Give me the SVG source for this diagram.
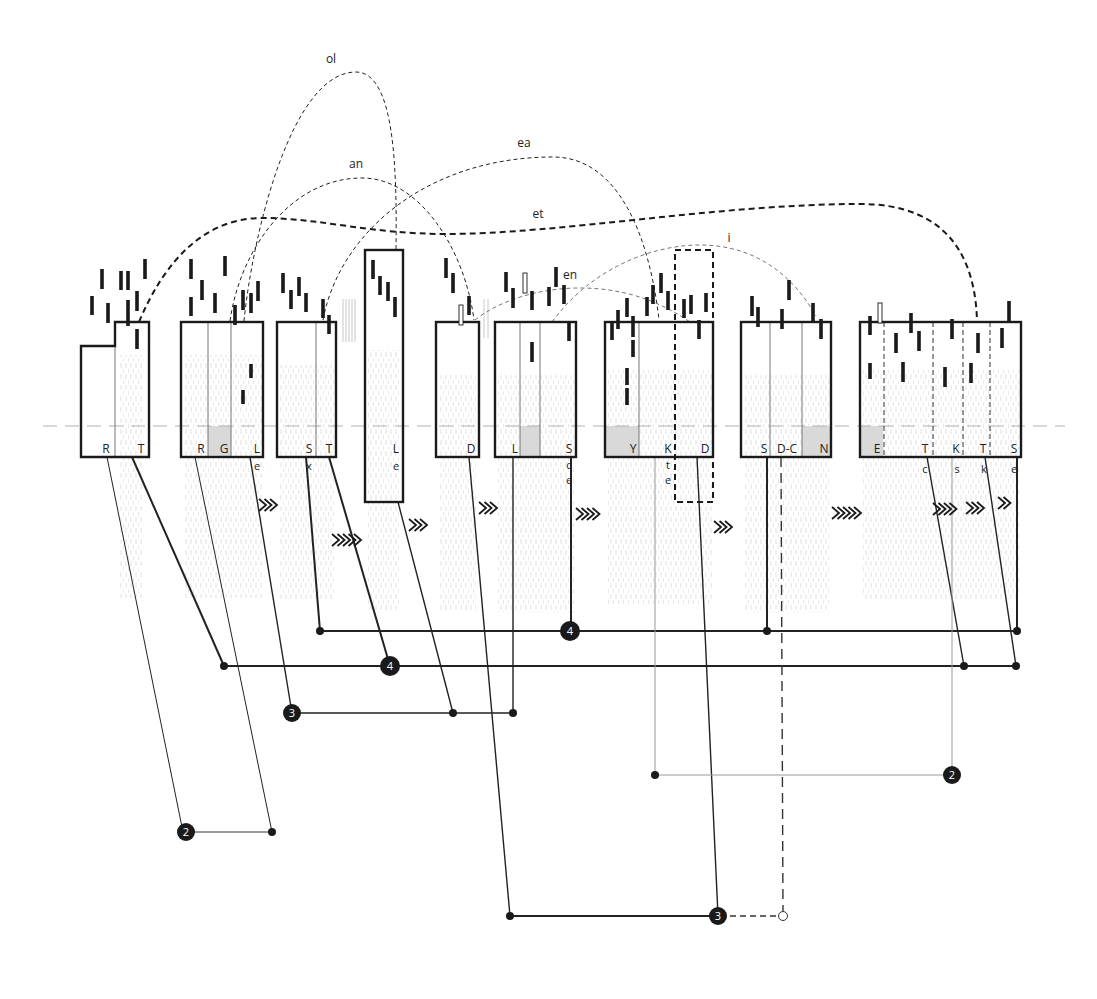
<svg xmlns="http://www.w3.org/2000/svg" xmlns:xlink="http://www.w3.org/1999/xlink" width="1097" height="999" viewBox="0 0 1097 999">
<style>
.box{fill:none;stroke:#1a1a1a;stroke-width:2.4}
.div{stroke:#777;stroke-width:1}
.ddiv{stroke:#333;stroke-width:1;stroke-dasharray:5 3}
.shade{fill:#d9d9d9}
.tex{fill:url(#tex)}
.bar{fill:#1a1a1a}
.obar{fill:#fff;stroke:#1a1a1a;stroke-width:0.9}
.lbl{font-family:"Open Sans","Liberation Sans",sans-serif;font-size:12px;fill:#222;text-anchor:middle}
.sub{font-family:"Open Sans","Liberation Sans",sans-serif;font-size:11px;fill:#222;text-anchor:middle}
.arc{fill:none;stroke:#222;stroke-width:1;stroke-dasharray:4 3}
.arcg{fill:none;stroke:#777;stroke-width:1;stroke-dasharray:4 3}
.arct{fill:none;stroke:#1a1a1a;stroke-width:2;stroke-dasharray:6 4}
.c1{stroke:#222;stroke-width:1;fill:none}
.c2{stroke:#222;stroke-width:1.4;fill:none}
.c3{stroke:#222;stroke-width:2;fill:none}
.cg{stroke:#999;stroke-width:1;fill:none}
.dot{fill:#1a1a1a}
.badge{fill:#1a1a1a}
.bt{font-family:"Open Sans","Liberation Sans",sans-serif;font-size:11px;fill:#fff;text-anchor:middle}
.gl{stroke:#c8c8c8;stroke-width:1}
</style>
<defs>
<pattern id="tex" width="5" height="11" patternUnits="userSpaceOnUse">
<line x1="1" y1="0" x2="1" y2="5" stroke="#dedede" stroke-width="0.9"/>
<line x1="3.5" y1="6" x2="3.5" y2="10" stroke="#e6e6e6" stroke-width="0.9"/>
</pattern>
<path id="chev" d="M0,-6 L7,0 L0,6" fill="none" stroke="#1a1a1a" stroke-width="1.8"/>
</defs>
<rect width="1097" height="999" fill="#fff"/>

<g id="texture">
<rect class="tex" x="120" y="355" width="22" height="243"/>
<rect class="tex" x="184" y="355" width="78" height="243"/>
<rect class="tex" x="280" y="365" width="55" height="235"/>
<rect class="tex" x="368" y="350" width="32" height="260"/>
<rect class="tex" x="440" y="375" width="36" height="235"/>
<rect class="tex" x="498" y="375" width="77" height="237"/>
<rect class="tex" x="607" y="370" width="105" height="235"/>
<rect class="tex" x="744" y="375" width="86" height="237"/>
<rect class="tex" x="862" y="370" width="158" height="230"/>
</g>

<g id="shades">
<rect class="shade" x="208" y="426" width="23" height="31"/>
<rect class="shade" x="520" y="426" width="20" height="31"/>
<rect class="shade" x="605" y="426" width="34" height="31"/>
<rect class="shade" x="802" y="426" width="29" height="31"/>
<rect class="shade" x="860" y="426" width="23" height="31"/>
</g>

<line x1="43" y1="426" x2="1065" y2="426" stroke="#b0b0b0" stroke-width="1" stroke-dasharray="14 8"/>

<g id="graystripes">
<line class="gl" x1="343" y1="299" x2="343" y2="342"/>
<line class="gl" x1="346" y1="299" x2="346" y2="342"/>
<line class="gl" x1="349" y1="299" x2="349" y2="342"/>
<line class="gl" x1="352" y1="299" x2="352" y2="342"/>
<line class="gl" x1="355" y1="299" x2="355" y2="342"/>
<line class="gl" x1="484" y1="299" x2="484" y2="338"/>
<line class="gl" x1="488" y1="299" x2="488" y2="338"/>
</g>

<g id="connectors">
<line class="c1" x1="107" y1="457" x2="183" y2="832"/>
<line class="c1" x1="195" y1="457" x2="272" y2="832"/>
<line x1="186" y1="832" x2="272" y2="832" stroke="#777" stroke-width="1.6"/>
<line class="c3" x1="132" y1="457" x2="224" y2="666"/>
<line class="c3" x1="224" y1="666" x2="1016" y2="666"/>
<line class="c2" x1="250" y1="457" x2="292" y2="713"/>
<line class="c2" x1="292" y1="713" x2="513" y2="713"/>
<line class="c3" x1="306" y1="457" x2="320" y2="631"/>
<line class="c3" x1="320" y1="631" x2="1016" y2="631"/>
<line class="c3" x1="329" y1="457" x2="390" y2="666"/>
<line class="c2" x1="398" y1="502" x2="453" y2="713"/>
<line class="c2" x1="469" y1="457" x2="510" y2="916"/>
<line class="c2" x1="513" y1="457" x2="513" y2="713"/>
<line class="c3" x1="571" y1="457" x2="571" y2="631"/>
<line class="c2" x1="697" y1="457" x2="718" y2="916"/>
<line class="c3" x1="510" y1="916" x2="718" y2="916"/>
<line x1="730" y1="916" x2="779" y2="916" stroke="#333" stroke-width="1.6" stroke-dasharray="6 4"/>
<line x1="781" y1="457" x2="783" y2="911" stroke="#333" stroke-width="1.4" stroke-dasharray="10 6"/>
<line class="c3" x1="767" y1="457" x2="767" y2="631"/>
<line class="c2" x1="927" y1="457" x2="964" y2="666"/>
<line class="c2" x1="985" y1="457" x2="1016" y2="666"/>
<line class="c3" x1="1017" y1="457" x2="1017" y2="631"/>
<line class="cg" x1="952" y1="457" x2="952" y2="775"/>
<line class="cg" x1="655" y1="457" x2="655" y2="775"/>
<line class="cg" x1="655" y1="775" x2="952" y2="775"/>

<path class="arc" d="M244,321 C252,240 290,72 356,72 C395,72 397,170 396,250"/>
<path class="arc" d="M230,321 C240,250 290,178 362,178 C420,178 465,250 474,320"/>
<path class="arc" d="M323,320 C340,230 430,157 553,157 C620,157 650,240 659,320"/>
<path class="arct" d="M139,322 C165,260 205,218 262,218 C320,218 370,234 446,234 C560,234 720,204 860,204 C950,204 975,260 977,320"/>
<path class="arcg" d="M552,322 C590,270 650,245 700,245 C750,245 790,270 816,316"/>
<path class="arcg" d="M475,320 C500,300 540,288 580,288 C630,288 665,305 690,322"/>

<circle class="dot" cx="272" cy="832" r="4"/>
<circle class="dot" cx="224" cy="666" r="4"/>
<circle class="dot" cx="964" cy="666" r="4"/>
<circle class="dot" cx="1016" cy="666" r="4"/>
<circle class="dot" cx="320" cy="631" r="4"/>
<circle class="dot" cx="767" cy="631" r="4"/>
<circle class="dot" cx="1017" cy="631" r="4"/>
<circle class="dot" cx="453" cy="713" r="4"/>
<circle class="dot" cx="513" cy="713" r="4"/>
<circle class="dot" cx="510" cy="916" r="4"/>
<circle class="dot" cx="655" cy="775" r="4"/>
<circle cx="783" cy="916" r="4.5" fill="#fff" stroke="#333" stroke-width="1"/>

<g id="badges">
<circle class="badge" cx="186" cy="832" r="9"/><text class="bt" x="186" y="836">2</text>
<circle class="badge" cx="390" cy="666" r="10"/><text class="bt" x="390" y="670">4</text>
<circle class="badge" cx="570" cy="631" r="10"/><text class="bt" x="570" y="635">4</text>
<circle class="badge" cx="292" cy="713" r="9"/><text class="bt" x="292" y="717">3</text>
<circle class="badge" cx="718" cy="916" r="9"/><text class="bt" x="718" y="920">3</text>
<circle class="badge" cx="952" cy="775" r="9"/><text class="bt" x="952" y="779">2</text>
</g>
</g>

<g id="arc-labels">
<text class="lbl" x="331" y="63">ol</text>
<text class="lbl" x="356" y="168">an</text>
<text class="lbl" x="524" y="147">ea</text>
<text class="lbl" x="538" y="218">et</text>
<text class="lbl" x="729" y="242">i</text>
<text class="lbl" x="570" y="279">en</text>
</g>

<g id="chevrons">
<g transform="translate(259,505)"><use xlink:href="#chev"/><use xlink:href="#chev" x="5.5"/><use xlink:href="#chev" x="11"/></g>
<g transform="translate(332,540)"><use xlink:href="#chev"/><use xlink:href="#chev" x="5.5"/><use xlink:href="#chev" x="11"/><use xlink:href="#chev" x="16.5"/><use xlink:href="#chev" x="22"/></g>
<g transform="translate(409,525)"><use xlink:href="#chev"/><use xlink:href="#chev" x="5.5"/><use xlink:href="#chev" x="11"/></g>
<g transform="translate(479,508)"><use xlink:href="#chev"/><use xlink:href="#chev" x="5.5"/><use xlink:href="#chev" x="11"/></g>
<g transform="translate(576,514)"><use xlink:href="#chev"/><use xlink:href="#chev" x="5.5"/><use xlink:href="#chev" x="11"/><use xlink:href="#chev" x="16.5"/></g>
<g transform="translate(714,527)"><use xlink:href="#chev"/><use xlink:href="#chev" x="5.5"/><use xlink:href="#chev" x="11"/></g>
<g transform="translate(832,513)"><use xlink:href="#chev"/><use xlink:href="#chev" x="5.5"/><use xlink:href="#chev" x="11"/><use xlink:href="#chev" x="16.5"/><use xlink:href="#chev" x="22"/></g>
<g transform="translate(933,509)"><use xlink:href="#chev"/><use xlink:href="#chev" x="5.5"/><use xlink:href="#chev" x="11"/><use xlink:href="#chev" x="16.5"/></g>
<g transform="translate(966,508)"><use xlink:href="#chev"/><use xlink:href="#chev" x="5.5"/><use xlink:href="#chev" x="11"/></g>
<g transform="translate(998,503)"><use xlink:href="#chev"/><use xlink:href="#chev" x="5.5"/></g>
</g>

<g id="node-RT">
<line class="div" x1="115" y1="346" x2="115" y2="457"/>
<path class="box" d="M81,346 H115 V322 H149 V457 H81 Z"/>
<text class="lbl" x="106" y="453">R</text><text class="lbl" x="141" y="453">T</text>
</g>
<g id="node-RGL">
<line class="div" x1="208" y1="322" x2="208" y2="457"/>
<line class="div" x1="231" y1="322" x2="231" y2="457"/>
<rect class="box" x="181" y="322" width="82" height="135"/>
<text class="lbl" x="201" y="453">R</text><text class="lbl" x="224" y="453">G</text><text class="lbl" x="257" y="453">L</text>
<text class="sub" x="257" y="470">e</text>
</g>
<g id="node-ST">
<line class="div" x1="316" y1="322" x2="316" y2="457"/>
<rect class="box" x="277" y="322" width="59" height="135"/>
<text class="lbl" x="309" y="453">S</text><text class="lbl" x="329" y="453">T</text>
<text class="sub" x="309" y="470">x</text>
</g>
<g id="node-L">
<rect class="box" x="365" y="250" width="38" height="252"/>
<text class="lbl" x="396" y="453">L</text>
<text class="sub" x="396" y="470">e</text>
</g>
<g id="node-D">
<rect class="box" x="436" y="322" width="43" height="135"/>
<text class="lbl" x="471" y="453">D</text>
</g>
<g id="node-LS">
<line class="div" x1="520" y1="322" x2="520" y2="457"/>
<line class="div" x1="540" y1="322" x2="540" y2="457"/>
<rect class="box" x="495" y="322" width="81" height="135"/>
<text class="lbl" x="515" y="453">L</text><text class="lbl" x="569" y="453">S</text>
<text class="sub" x="569" y="469">c</text><text class="sub" x="569" y="484">e</text>
</g>
<g id="node-YKD">
<line class="div" x1="639" y1="322" x2="639" y2="457"/>
<rect class="box" x="605" y="322" width="108" height="135"/>
<text class="lbl" x="633" y="453">Y</text><text class="lbl" x="668" y="453">K</text><text class="lbl" x="705" y="453">D</text>
<text class="sub" x="668" y="469">t</text><text class="sub" x="668" y="484">e</text>
</g>
<g id="node-dashed">
<rect x="675" y="250" width="38" height="252" fill="none" stroke="#1a1a1a" stroke-width="2" stroke-dasharray="6 4"/>
</g>
<g id="node-SDCN">
<line class="div" x1="770" y1="322" x2="770" y2="457"/>
<line class="div" x1="802" y1="322" x2="802" y2="457"/>
<rect class="box" x="741" y="322" width="90" height="135"/>
<text class="lbl" x="764" y="453">S</text><text class="lbl" x="787" y="453">D-C</text><text class="lbl" x="824" y="453">N</text>
</g>
<g id="node-ETKTS">
<line class="ddiv" x1="884" y1="322" x2="884" y2="457"/>
<line class="ddiv" x1="933" y1="322" x2="933" y2="457"/>
<line class="ddiv" x1="963" y1="322" x2="963" y2="457"/>
<line class="ddiv" x1="990" y1="322" x2="990" y2="457"/>
<rect class="box" x="860" y="322" width="161" height="135"/>
<text class="lbl" x="877" y="453">E</text><text class="lbl" x="925" y="453">T</text><text class="lbl" x="956" y="453">K</text><text class="lbl" x="983" y="453">T</text><text class="lbl" x="1014" y="453">S</text>
<text class="sub" x="925" y="473">c</text><text class="sub" x="957" y="473">s</text><text class="sub" x="984" y="473">k</text><text class="sub" x="1014" y="473">e</text>
</g>

<g id="bars">
<rect class="bar" x="100.2" y="269" width="3.6" height="20"/>
<rect class="bar" x="90.2" y="296" width="3.6" height="19"/>
<rect class="bar" x="106.2" y="303" width="3.6" height="20"/>
<rect class="bar" x="119.2" y="271" width="3.6" height="19"/>
<rect class="bar" x="126.2" y="271" width="3.6" height="19"/>
<rect class="bar" x="143.2" y="259" width="3.6" height="20"/>
<rect class="bar" x="126.2" y="300" width="3.6" height="26"/>
<rect class="bar" x="135.2" y="291" width="3.6" height="20"/>
<rect class="bar" x="135.2" y="329" width="3.6" height="20"/>
<rect class="bar" x="189.2" y="259" width="3.6" height="20"/>
<rect class="bar" x="189.2" y="297" width="3.6" height="19"/>
<rect class="bar" x="200.2" y="280" width="3.6" height="20"/>
<rect class="bar" x="213.2" y="293" width="3.6" height="20"/>
<rect class="bar" x="223.2" y="256" width="3.6" height="20"/>
<rect class="bar" x="233.2" y="305" width="3.6" height="20"/>
<rect class="bar" x="241.2" y="290" width="3.6" height="20"/>
<rect class="bar" x="249.2" y="293" width="3.6" height="20"/>
<rect class="bar" x="256.2" y="281" width="3.6" height="20"/>
<rect class="bar" x="249.2" y="364" width="3.6" height="14"/>
<rect class="bar" x="241.2" y="390" width="3.6" height="14"/>
<rect class="bar" x="281.2" y="273" width="3.6" height="20"/>
<rect class="bar" x="289.2" y="290" width="3.6" height="19"/>
<rect class="bar" x="297.2" y="277" width="3.6" height="19"/>
<rect class="bar" x="304.2" y="293" width="3.6" height="19"/>
<rect class="bar" x="321.2" y="299" width="3.6" height="19"/>
<rect class="bar" x="327.2" y="315" width="3.6" height="19"/>
<rect class="bar" x="371.2" y="260" width="3.6" height="19"/>
<rect class="bar" x="378.2" y="276" width="3.6" height="19"/>
<rect class="bar" x="386.2" y="282" width="3.6" height="19"/>
<rect class="bar" x="393.2" y="297" width="3.6" height="20"/>
<rect class="bar" x="444.2" y="258" width="3.6" height="20"/>
<rect class="bar" x="451.2" y="273" width="3.6" height="20"/>
<rect class="bar" x="467.2" y="296" width="3.6" height="19"/>
<rect class="bar" x="504.2" y="272" width="3.6" height="20"/>
<rect class="bar" x="511.2" y="288" width="3.6" height="20"/>
<rect class="bar" x="530.2" y="291" width="3.6" height="19"/>
<rect class="bar" x="547.2" y="287" width="3.6" height="19"/>
<rect class="bar" x="554.2" y="267" width="3.6" height="20"/>
<rect class="bar" x="562.2" y="285" width="3.6" height="19"/>
<rect class="bar" x="567.2" y="322" width="3.6" height="19"/>
<rect class="bar" x="530.2" y="342" width="3.6" height="20"/>
<rect class="bar" x="610.2" y="321" width="3.6" height="19"/>
<rect class="bar" x="616.2" y="310" width="3.6" height="19"/>
<rect class="bar" x="625.2" y="298" width="3.6" height="19"/>
<rect class="bar" x="631.2" y="316" width="3.6" height="21"/>
<rect class="bar" x="631.2" y="340" width="3.6" height="17"/>
<rect class="bar" x="625.2" y="368" width="3.6" height="17"/>
<rect class="bar" x="625.2" y="388" width="3.6" height="17"/>
<rect class="bar" x="645.2" y="297" width="3.6" height="19"/>
<rect class="bar" x="651.2" y="285" width="3.6" height="19"/>
<rect class="bar" x="659.2" y="273" width="3.6" height="20"/>
<rect class="bar" x="666.2" y="291" width="3.6" height="19"/>
<rect class="bar" x="682.2" y="299" width="3.6" height="19"/>
<rect class="bar" x="689.2" y="295" width="3.6" height="19"/>
<rect class="bar" x="697.2" y="320" width="3.6" height="19"/>
<rect class="bar" x="704.2" y="293" width="3.6" height="19"/>
<rect class="bar" x="750.2" y="296" width="3.6" height="20"/>
<rect class="bar" x="756.2" y="307" width="3.6" height="20"/>
<rect class="bar" x="780.2" y="309" width="3.6" height="20"/>
<rect class="bar" x="787.2" y="280" width="3.6" height="20"/>
<rect class="bar" x="811.2" y="303" width="3.6" height="20"/>
<rect class="bar" x="819.2" y="319" width="3.6" height="20"/>
<rect class="bar" x="868.2" y="316" width="3.6" height="19"/>
<rect class="bar" x="894.2" y="333" width="3.6" height="20"/>
<rect class="bar" x="909.2" y="313" width="3.6" height="20"/>
<rect class="bar" x="917.2" y="331" width="3.6" height="20"/>
<rect class="bar" x="868.2" y="363" width="3.6" height="16"/>
<rect class="bar" x="901.2" y="362" width="3.6" height="20"/>
<rect class="bar" x="943.2" y="367" width="3.6" height="20"/>
<rect class="bar" x="950.2" y="319" width="3.6" height="20"/>
<rect class="bar" x="976.2" y="333" width="3.6" height="20"/>
<rect class="bar" x="969.2" y="363" width="3.6" height="20"/>
<rect class="bar" x="1000.2" y="328" width="3.6" height="20"/>
<rect class="bar" x="1007.2" y="301" width="3.6" height="20"/>
<rect class="obar" x="459" y="305" width="4" height="20"/>
<rect class="obar" x="523" y="273" width="4" height="20"/>
<rect class="obar" x="878" y="303" width="4" height="20"/>
</g>
</svg>
